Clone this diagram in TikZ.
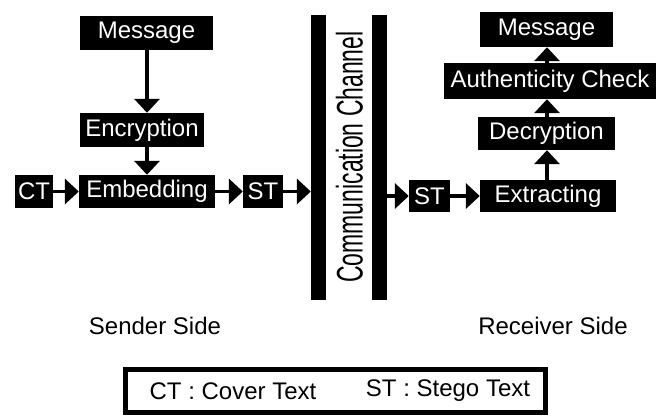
\documentclass[tikz,border=0pt]{standalone}
\usepackage{fontspec}
\setmainfont{Liberation Sans}
\usetikzlibrary{arrows.meta}
\tikzset{
  blk/.style={fill=black, text=white, inner sep=0pt, minimum height=34pt, font=\fontsize{24}{24}\selectfont},
  bar/.style={fill=black, inner sep=0pt, minimum width=15pt, minimum height=285pt},
  arr/.style={line width=3.5pt, -{Triangle[length=14pt,width=25pt]}},
  lbl/.style={inner sep=0pt, font=\fontsize{24}{24}\selectfont}
}
\begin{document}
\begin{tikzpicture}[x=1pt,y=-1pt]
\useasboundingbox (0,0) rectangle (656,416);
% sender
\node[blk, minimum width=133pt] (msgS) at (146.5,32.5) {Message};
\node[blk, minimum width=124pt] (enc) at (142,130) {Encryption};
\node[blk, minimum width=136pt, minimum height=33pt] (emb) at (147,191.5) {Embedding};
\node[blk, minimum width=38pt, minimum height=33pt] (ct) at (34,191.5) {CT};
\node[blk, minimum width=40pt, minimum height=33pt] (stS) at (263,191.5) {ST};
% channel
\node[bar] (barL) at (318.5,157.5) {};
\node[bar] (barR) at (379.5,157.5) {};
\node[inner sep=0pt, rotate=90] (chan) at (349.5,157) {\scalebox{0.62}[1]{\fontsize{37}{37}\selectfont Communication Channel}};
% receiver
\node[blk, minimum width=41pt, minimum height=32pt] (stR) at (429.5,196) {ST};
\node[blk, minimum width=136pt, minimum height=32pt] (ext) at (548,196) {Extracting};
\node[blk, minimum width=137pt, minimum height=33pt] (dec) at (546.5,133.5) {Decryption};
\node[blk, minimum width=212pt, minimum height=36pt] (auth) at (550,81) {Authenticity Check};
\node[blk, minimum width=133pt, minimum height=35pt] (msgR) at (546.5,29.5) {Message};
% arrows sender
\draw[arr] (msgS.south -| 147,0) -- (enc.north -| 147,0);
\draw[arr] (enc.south -| 147,0) -- (emb.north -| 147,0);
\draw[arr] (ct.east) -- (emb.west);
\draw[arr] (emb.east) -- (stS.west);
\draw[arr] (stS.east) -- (stS.east -| barL.west);
% arrows receiver
\draw[arr] (stR.west -| barR.east) -- (stR.west);
\draw[arr] (stR.east) -- (ext.west);
\draw[arr] (ext.north -| 547,0) -- (dec.south -| 547,0);
\draw[arr] (dec.north -| 547,0) -- (auth.south -| 547,0);
\draw[arr] (auth.north -| 547,0) -- (msgR.south -| 547,0);
% labels
\node[lbl] (sender) at (155,326) {Sender Side};
\node[lbl] (receiver) at (553,326) {Receiver Side};
% legend
\node[draw, line width=5pt, minimum width=420pt, minimum height=43pt, inner sep=0pt] (legend) at (335.5,391) {};
\node[lbl] (ctdef) at (233,391) {CT : Cover Text};
\node[lbl] (stdef) at (448,391) {ST : Stego Text};
\end{tikzpicture}
\end{document}
